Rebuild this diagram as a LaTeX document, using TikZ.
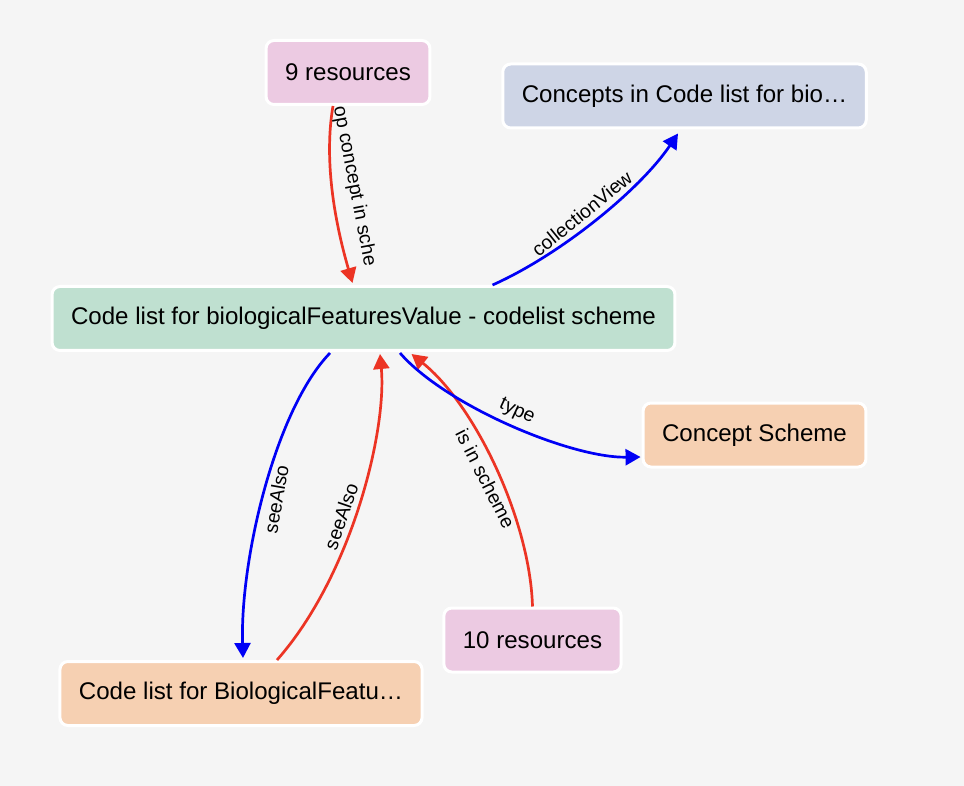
\documentclass[tikz,border=0pt]{standalone}
\usepackage{fontspec}
\setmainfont{Liberation Sans}
\usetikzlibrary{calc,arrows.meta}
\definecolor{bggrey}{HTML}{F5F5F5}
\definecolor{boxpink}{RGB}{236,202,226}
\definecolor{boxlavender}{RGB}{206,213,230}
\definecolor{boxgreen}{RGB}{191,224,208}
\definecolor{boxpeach}{RGB}{246,208,178}
\definecolor{linkred}{RGB}{236,52,36}
\definecolor{linkblue}{RGB}{0,0,245}
\tikzset{
  box/.style={
    rectangle,
    rounded corners=4pt,
    draw=white,
    line width=1.5pt,
    minimum height=32pt,
    inner xsep=9.5pt,
    font=\fontsize{12.05}{14}\selectfont
  },
  box-pink/.style={box, fill=boxpink},
  box-lavender/.style={box, fill=boxlavender},
  box-green/.style={box, fill=boxgreen},
  box-peach/.style={box, fill=boxpeach},
  link/.style={line width=1.35pt, -{Triangle[length=7.5pt,width=8pt]}},
  link-red/.style={link, draw=linkred},
  link-blue/.style={link, draw=linkblue},
  edge-label/.style={font=\fontsize{9.7}{12}\selectfont, inner sep=2.5pt}
}

\begin{document}
\begin{tikzpicture}[x=0.5pt, y=-0.5pt]
  \fill[bggrey] (0,0) rectangle (964,786);
  \useasboundingbox (0,0) rectangle (964,786);
  % Boxes
  \node[box-green] (Scheme) at (363.5,318.5) {Code list for biologicalFeaturesValue - codelist scheme};
  \node[box-pink] (Res9) at (348,72.5) {9 resources};
  \node[box-lavender] (Concepts) at (684.5,96) {Concepts in Code list for bio…};
  \node[box-peach] (ConceptScheme) at (754.5,435) {Concept Scheme};
  \node[box-pink] (Res10) at (532.5,640) {10 resources};
  \node[box-peach] (BioCodes) at (241,693.5) {Code list for BiologicalFeatu…};
  % Incoming links
  \draw[link-red] ($(Res9.south)+(-15,0)$) .. controls (322,170) and (340,240) .. ($(Scheme.north)+(-11,-2)$)
    node[edge-label, pos=.43, xshift=3.5pt, anchor=south, rotate=-79] {op concept in sche};
  \draw[link-red] (Res10.north) .. controls (530,520) and (475,405) .. ($(Scheme.south)+(48,2)$)
    node[edge-label, pos=.48, anchor=north, rotate=-63] {is in scheme};
  \draw[link-red] ($(BioCodes.north)+(36,0)$) .. controls (352,575) and (387,430) .. ($(Scheme.south)+(16.5,2)$)
    node[edge-label, pos=.45, anchor=south, rotate=71] {seeAlso};
  % Outgoing links
  \draw[link-blue] ($(Scheme.north)+(129,0)$) .. controls (560,255) and (640,190) .. ($(Concepts.south)+(-6.5,4)$)
    node[edge-label, pos=.47, anchor=south, rotate=39] {collectionView};
  \draw[link-blue] ($(Scheme.south)+(36.5,1)$) .. controls (445,405) and (570,458) .. ($(ConceptScheme.west)+(-1,22)$)
    node[edge-label, pos=.5, anchor=south, rotate=-25] {type};
  \draw[link-blue] ($(Scheme.south)+(-33.5,1)$) .. controls (275,410) and (240,560) .. ($(BioCodes.north)+(2,-2)$)
    node[edge-label, pos=.52, anchor=north, rotate=80] {seeAlso};
\end{tikzpicture}
\end{document}
